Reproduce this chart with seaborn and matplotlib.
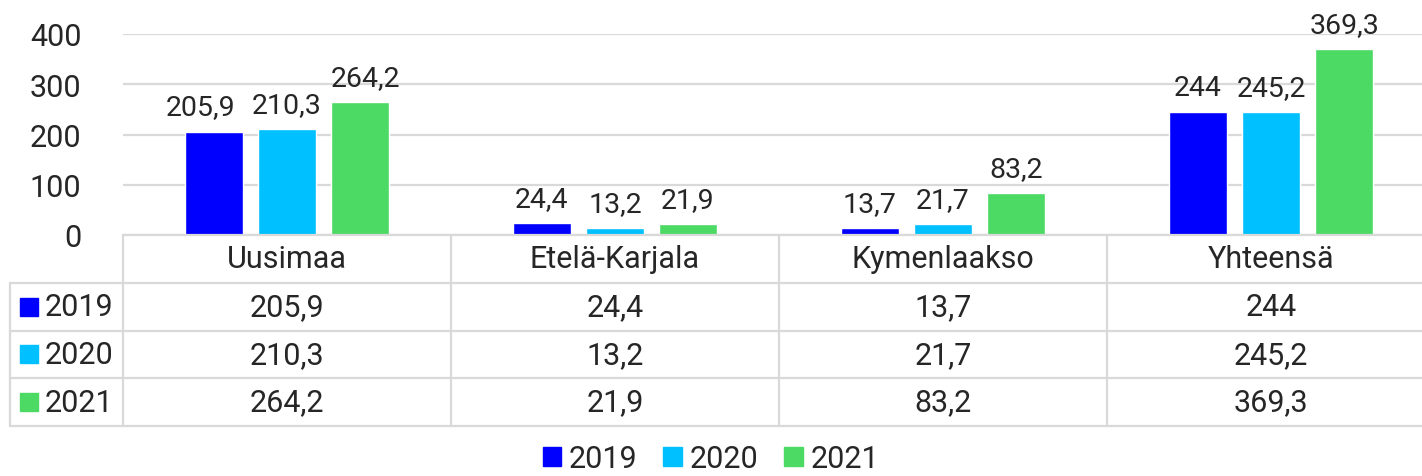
import matplotlib
matplotlib.use("Agg")
import matplotlib.pyplot as plt
from matplotlib.patches import Patch, Rectangle
import seaborn as sns
import pandas as pd

# Data
regions = ['Uusimaa', 'Etelä-Karjala', 'Kymenlaakso', 'Yhteensä']
years = ['2019', '2020', '2021']
v2019 = [205.9, 24.4, 13.7, 244]
v2020 = [210.3, 13.2, 21.7, 245.2]
v2021 = [264.2, 21.9, 83.2, 369.3]
colors = ['#0000FF', '#00C0FF', '#4CD964']

def fmt(v):
    return f"{v:g}".replace('.', ',')

rows = []
for yr, vals in zip(years, [v2019, v2020, v2021]):
    for r, v in zip(regions, vals):
        rows.append({'region': r, 'year': yr, 'value': v})
df = pd.DataFrame(rows)

sns.set_style('white')
plt.rcParams['font.family'] = ['Roboto', 'DejaVu Sans']

W, H = 1422, 477
fig = plt.figure(figsize=(W / 100, H / 100), dpi=100)

# Chart area in pixels
x0, colw = 123, 328
y_zero, y_top = 236, 35
ax = fig.add_axes([x0 / W, 1 - y_zero / H, 4 * colw / W, (y_zero - y_top) / H])

sns.barplot(data=df, x='region', y='value', hue='year', palette=colors,
            width=0.668, gap=0.2, ax=ax, legend=False, saturation=1)
ax.set_xlim(-0.5, 3.5)
ax.set_ylim(0, 400)
ax.set_yticks([0, 100, 200, 300, 400])
ax.set_yticklabels(['0', '100', '200', '300', '400'], fontsize=22)
ax.tick_params(axis='y', length=0, pad=30)
ax.set_xticks([])
ax.set_xlabel('')
ax.set_ylabel('')
for s in ax.spines.values():
    s.set_visible(False)
ax.grid(axis='y', color='#D9D9D9', linewidth=1.6)
ax.set_axisbelow(True)

labels = []
for cont, vals in zip(ax.containers, [v2019, v2020, v2021]):
    labels.append(ax.bar_label(cont, labels=[fmt(v) for v in vals], padding=8,
                               fontsize=20.5, clip_on=False))
# nudge the crowded Uusimaa labels apart (as in the original)
for k, dx in [(0, -13), (2, 5)]:
    a = labels[k][0]
    a.xyann = (dx * 0.72, a.xyann[1])

# Data table
tab = fig.add_axes([x0 / W, 1 - 427 / H, 4 * colw / W, (427 - 236) / H])
tab.set_xlim(-0.5, 3.5)
tab.set_ylim(4, 0)
tab.axis('off')
left = -0.5 - (x0 - 10) / colw
lc = '#D9D9D9'
lw = 1.6
# horizontal lines
tab.plot([-0.5, 3.5], [0, 0], color=lc, lw=lw, clip_on=False)
for yy in [1, 2, 3, 4]:
    tab.plot([left, 3.5], [yy, yy], color=lc, lw=lw, clip_on=False)
# vertical lines
tab.plot([left, left], [1, 4], color=lc, lw=lw, clip_on=False)
for xx in [-0.5, 0.5, 1.5, 2.5]:
    tab.plot([xx, xx], [0, 4], color=lc, lw=lw, clip_on=False)

for i, r in enumerate(regions):
    tab.text(i, 0.5, r, ha='center', va='center', fontsize=22)
for j, (yr, vals) in enumerate(zip(years, [v2019, v2020, v2021])):
    yy = j + 1.5
    tab.add_patch(Rectangle((left + 10 / colw, yy - 0.19), 18 / colw, 0.38,
                            color=colors[j], clip_on=False))
    tab.text(left + 35 / colw, yy, yr, ha='left', va='center', fontsize=22)
    for i, v in enumerate(vals):
        tab.text(i, yy, fmt(v), ha='center', va='center', fontsize=22)

handles = [Patch(color=c, label=y) for c, y in zip(colors, years)]
fig.legend(handles=handles, loc='center', bbox_to_anchor=(0.5, 0.036),
           ncol=3, frameon=False, fontsize=22, handlelength=0.6,
           handleheight=0.6, handletextpad=0.26, columnspacing=0.85,
           borderpad=0, borderaxespad=0)

fig.savefig('out.png', dpi=100)
